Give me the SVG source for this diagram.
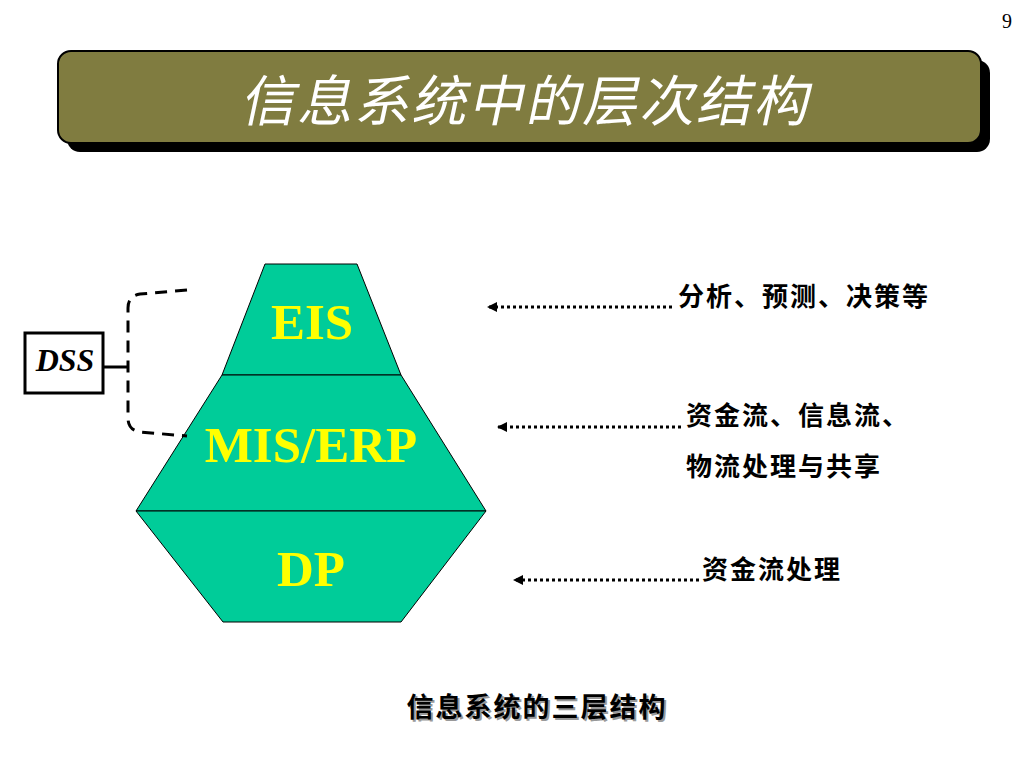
<svg xmlns="http://www.w3.org/2000/svg" width="1024" height="768" viewBox="0 0 1024 768">
<defs>
<style>
.layer{fill:#00CC99;stroke:#000;stroke-width:1}
.lbl{font-family:"Liberation Serif","Times New Roman",serif;font-weight:bold;font-size:51px;fill:#FFFF00;text-anchor:middle}
.note{font-family:"Noto Sans CJK SC",sans-serif;font-weight:bold;font-size:26px;fill:#000;letter-spacing:2px}
.dot{stroke:#000;stroke-width:3;stroke-dasharray:3 3;fill:none}
.dash{stroke:#000;stroke-width:3;stroke-dasharray:12 8;fill:none}
</style>
<marker id="ah" markerWidth="10" markerHeight="10" refX="10" refY="5" orient="auto" markerUnits="userSpaceOnUse">
<path d="M0,0 L10,5 L0,10 Z" fill="#000"/>
</marker>
</defs>
<rect width="1024" height="768" fill="#fff"/>
<text x="1007" y="28" font-family="Liberation Serif, serif" font-size="20" text-anchor="middle" fill="#000">9</text>
<g id="title">
<rect x="67" y="60" width="923" height="92" rx="13" fill="#000"/>
<rect x="58" y="51" width="923" height="92" rx="13" fill="#807C40" stroke="#000" stroke-width="2"/>
<g transform="translate(525,121) skewX(-12)">
<text x="0" y="0" font-family="Noto Sans CJK SC, sans-serif" font-size="55" fill="#FFFFFF" text-anchor="middle" letter-spacing="2">信息系统中的层次结构</text>
</g>
</g>
<g id="eis">
<polygon class="layer" points="265,264 357,264 401,375 222,375"/>
<text class="lbl" x="312" y="339">EIS</text>
</g>
<g id="mis">
<polygon class="layer" points="222,375 401,375 486,511 136,511"/>
<text class="lbl" x="311" y="462">MIS/ERP</text>
</g>
<g id="dp">
<polygon class="layer" points="136,511 486,511 401,622 223,622"/>
<text class="lbl" x="311" y="586">DP</text>
</g>
<g id="dss">
<rect x="25" y="333" width="78" height="60" fill="#fff" stroke="#000" stroke-width="3"/>
<text x="65" y="371" font-family="Liberation Serif, serif" font-style="italic" font-weight="bold" font-size="32" text-anchor="middle" fill="#000">DSS</text>
</g>
<g id="connectors">
<path d="M103,367 L128,367" stroke="#000" stroke-width="3" fill="none"/>
<path class="dash" d="M187,290 L140,294 Q128,296 128,308 L128,418 Q128,430 140,432 L187,436"/>
<line class="dot" x1="672" y1="307" x2="487" y2="307" marker-end="url(#ah)"/>
<line class="dot" x1="681" y1="427" x2="497" y2="427" marker-end="url(#ah)"/>
<line class="dot" x1="699" y1="580" x2="513" y2="580" marker-end="url(#ah)"/>
</g>
<g id="notes">
<text class="note" x="678" y="306">分析、预测、决策等</text>
<text class="note" x="686" y="425">资金流、信息流、</text>
<text class="note" x="686" y="476">物流处理与共享</text>
<text class="note" x="702" y="579">资金流处理</text>
</g>
<g id="caption">
<text x="539" y="719" font-family="Noto Sans CJK SC, sans-serif" font-weight="bold" font-size="27" fill="#999" text-anchor="middle" letter-spacing="2">信息系统的三层结构</text>
<text x="537" y="717" font-family="Noto Sans CJK SC, sans-serif" font-weight="bold" font-size="27" fill="#000" text-anchor="middle" letter-spacing="2">信息系统的三层结构</text>
</g>
</svg>
